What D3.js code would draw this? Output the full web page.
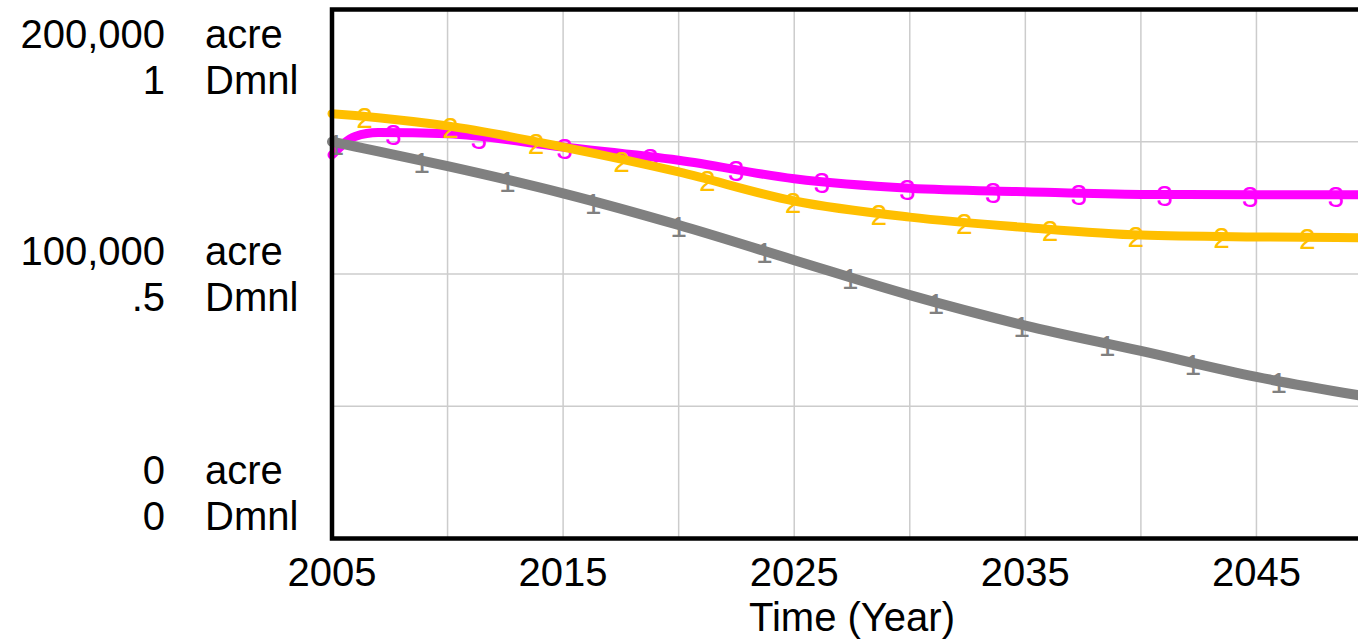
<!DOCTYPE html>
<html>
<head>
<meta charset="utf-8">
<script src="https://cdn.jsdelivr.net/npm/d3@7/dist/d3.min.js"></script>
<style>
  html, body { margin: 0; padding: 0; background: #fff; overflow: hidden; }
  svg { display: block; }
  text { font-family: "Liberation Sans", Arial, sans-serif; fill: #000; }
</style>
</head>
<body>
<svg id="chart" width="1358" height="639"></svg>
<script>
// Simulation time axis (years)
const years = [2005, 2006, 2007, 2010, 2015, 2020, 2025, 2030, 2035, 2040, 2045, 2050];

// Series 1 (acre)
const series1 = [150000, 148200, 146400, 140800, 130500, 118500, 105200, 92000, 80500, 70900, 61100, 53300];
// Series 2 (acre)
const series2 = [160600, 159900, 159100, 156000, 148000, 138600, 127600, 121500, 117600, 114700, 114000, 113700];
// Series 3 (acre)
const series3 = [145000, 152000, 153500, 153000, 148000, 143000, 136000, 132400, 131100, 130100, 130000, 130000];

const seriesNames = ["1", "2", "3"];
const seriesColors = ["#808080", "#FFBF00", "#FF00FF"];

// Axis ticks
const xTicks = [2005, 2015, 2025, 2035, 2045];
const xGrid = [2010, 2015, 2020, 2025, 2030, 2035, 2040, 2045];
const acreTicks = [200000, 100000, 0];
const acreTickLabels = ["200,000", "100,000", "0"];
const dmnlTickLabels = ["1", ".5", "0"];
const yGrid = [50000, 100000, 150000];
const xTitle = "Time (Year)";

const svg = d3.select("#chart");
const plotL = 332, plotT = 9.5, plotR = 1372, plotB = 538.5;

const x = d3.scaleLinear().domain([2005, 2050]).range([plotL, plotR]);
const y = d3.scaleLinear().domain([0, 200000]).range([plotB, plotT]);

// grid
const grid = svg.append("g").attr("stroke", "#cccccc").attr("stroke-width", 1.5);
grid.selectAll("line.v").data(xGrid).join("line").attr("class", "v")
  .attr("x1", d => x(d)).attr("x2", d => x(d)).attr("y1", plotT).attr("y2", plotB);
grid.selectAll("line.h").data(yGrid).join("line").attr("class", "h")
  .attr("x1", plotL).attr("x2", plotR).attr("y1", d => y(d)).attr("y2", d => y(d));

// lines
const line = d3.line().x(d => x(d[0])).y(d => y(d[1])).curve(d3.curveMonotoneX);
const strokeWidths = [10, 9, 9];
const allSeries = [series1, series2, series3].map((vals, i) => ({
  name: seriesNames[i], color: seriesColors[i],
  pts: years.map((yr, j) => [yr, vals[j]])
}));

// marker spacing along the time axis, staggered for each series
const markStep = 3.708;
const markStart = [2005.17, 2006.41, 2007.65];
const markEnd = 2049.2;

function valueAt(pts, t) {
  for (let j = 0; j < pts.length - 1; j++) {
    if (t >= pts[j][0] && t <= pts[j + 1][0]) {
      const f = (t - pts[j][0]) / (pts[j + 1][0] - pts[j][0]);
      return pts[j][1] + f * (pts[j + 1][1] - pts[j][1]);
    }
  }
  return pts[pts.length - 1][1];
}

const plot = svg.append("g");
[2, 1, 0].forEach(i => {
  const s = allSeries[i];
  plot.append("path").datum(s.pts)
    .attr("fill", "none").attr("stroke", s.color).attr("stroke-width", strokeWidths[i])
    .attr("stroke-linejoin", "round").attr("stroke-linecap", "round")
    .attr("d", line);
  const marks = d3.range(markStart[i], markEnd, markStep);
  plot.selectAll("text.m" + i).data(marks).join("text").attr("class", "m" + i)
    .attr("x", d => x(d)).attr("y", d => y(valueAt(s.pts, d)) + 12)
    .attr("text-anchor", "middle").attr("font-size", 30)
    .style("fill", s.color).text(s.name);
});

// frame
svg.append("rect").attr("x", plotL).attr("y", plotT)
  .attr("width", plotR - plotL).attr("height", plotB - plotT)
  .attr("fill", "none").attr("stroke", "#000").attr("stroke-width", 4.5);

// y labels: two stacked unit rows per tick
const yl = svg.append("g").attr("font-size", 40);
acreTicks.forEach((v, i) => {
  const shift = i === 0 ? 47 : (i === acreTicks.length - 1 ? -46 : 0);
  const c = y(v) + shift;
  const b1 = c - 23 + 14, b2 = c + 23 + 14;
  yl.append("text").attr("x", 165).attr("y", b1).attr("text-anchor", "end").text(acreTickLabels[i]);
  yl.append("text").attr("x", 205).attr("y", b1).text("acre");
  yl.append("text").attr("x", 165).attr("y", b2).attr("text-anchor", "end").text(dmnlTickLabels[i]);
  yl.append("text").attr("x", 205).attr("y", b2).text("Dmnl");
});

// x labels
const xl = svg.append("g").attr("font-size", 40);
xl.selectAll("text").data(xTicks).join("text")
  .attr("x", d => x(d)).attr("y", 586).attr("text-anchor", "middle").text(d => d);
svg.append("text").attr("x", x(2027.5)).attr("y", 631).attr("text-anchor", "middle")
  .attr("font-size", 40).text(xTitle);
</script>
</body>
</html>
